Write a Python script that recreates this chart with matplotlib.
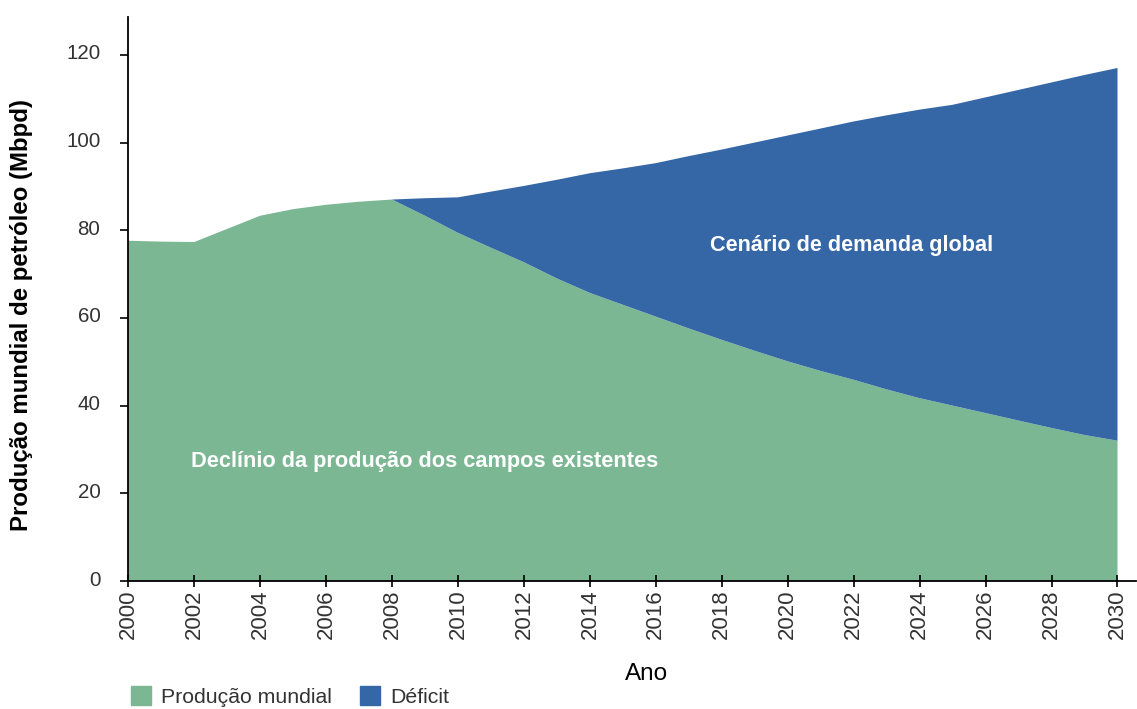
import matplotlib
matplotlib.use("Agg")
import matplotlib.pyplot as plt
import matplotlib.transforms as mtransforms
import numpy as np
from matplotlib.patches import Patch

plt.rcParams['font.family'] = ['Liberation Sans', 'DejaVu Sans']

# anos e valores (Mbpd)
anos = np.arange(2000, 2031)
producao = [77.6, 77.4, 77.3, 80.3, 83.3, 84.8, 85.8, 86.5, 87.0,
            83.3, 79.4, 76.0, 72.7, 69.0, 65.7, 63.0, 60.3, 57.6, 55.0,
            52.5, 50.1, 47.9, 45.9, 43.7, 41.7, 40.0, 38.3, 36.6, 34.9,
            33.3, 32.0]
demanda = [77.6, 77.4, 77.3, 80.3, 83.3, 84.8, 85.8, 86.5, 87.0,
           87.3, 87.5, 88.8, 90.1, 91.5, 93.0, 94.1, 95.3, 96.9, 98.4,
           100.0, 101.6, 103.2, 104.8, 106.2, 107.5, 108.6, 110.3, 112.0,
           113.7, 115.4, 117.0]
deficit = np.array(demanda) - np.array(producao)

verde = '#7BB793'
azul = '#3567A6'

fig = plt.figure(figsize=(11.37, 7.09), dpi=100)
ax = fig.add_axes([0.1128, 0.1805, 0.886, 0.796])

ax.stackplot(anos, producao, deficit, colors=[verde, azul], linewidth=0)

ax.set_xlim(2000, 2030.55)
ax.set_ylim(0, 128.7)
ax.set_xticks(np.arange(2000, 2031, 2))
ax.set_yticks(np.arange(0, 121, 20))
ax.tick_params(axis='x', labelrotation=90, labelsize=16, labelcolor='#333333',
               direction='inout', length=8, width=1.2, pad=2)
ax.tick_params(axis='y', labelsize=14.8, labelcolor='#333333',
               direction='out', length=6, width=1.2, pad=14)
# rótulos do eixo y um pouco acima dos traços, como no original
desloc = mtransforms.ScaledTranslation(0, 3 / 100, fig.dpi_scale_trans)
for lbl in ax.get_yticklabels():
    lbl.set_transform(lbl.get_transform() + desloc)
for s in ['top', 'right']:
    ax.spines[s].set_visible(False)
for s in ['left', 'bottom']:
    ax.spines[s].set_linewidth(1.3)

fig.text(22 / 1137, 1 - 315 / 709, 'Produção mundial de petróleo (Mbpd)',
         fontsize=17.3, fontweight='bold', rotation=90, ha='center', va='center')
fig.text(647 / 1137, 1 - 674 / 709, 'Ano', fontsize=17.5, ha='center', va='center')

ax.text(2021.95, 76.6, 'Cenário de demanda global', color='white',
        fontsize=15.6, fontweight='bold', ha='center', va='center')
ax.text(2009.0, 27.2, 'Declínio da produção dos campos existentes', color='white',
        fontsize=15.7, fontweight='bold', ha='center', va='center')

handles = [Patch(color=verde, label='Produção mundial'),
           Patch(color=azul, label='Déficit')]
leg = fig.legend(handles=handles, loc='lower left', bbox_to_anchor=(0.098, -0.024),
                 ncol=2, frameon=False, fontsize=15.3, handlelength=0.95,
                 handleheight=0.95, handletextpad=0.5, columnspacing=1.3)
for t in leg.get_texts():
    t.set_color('#333333')

fig.savefig('out.png', dpi=100)
